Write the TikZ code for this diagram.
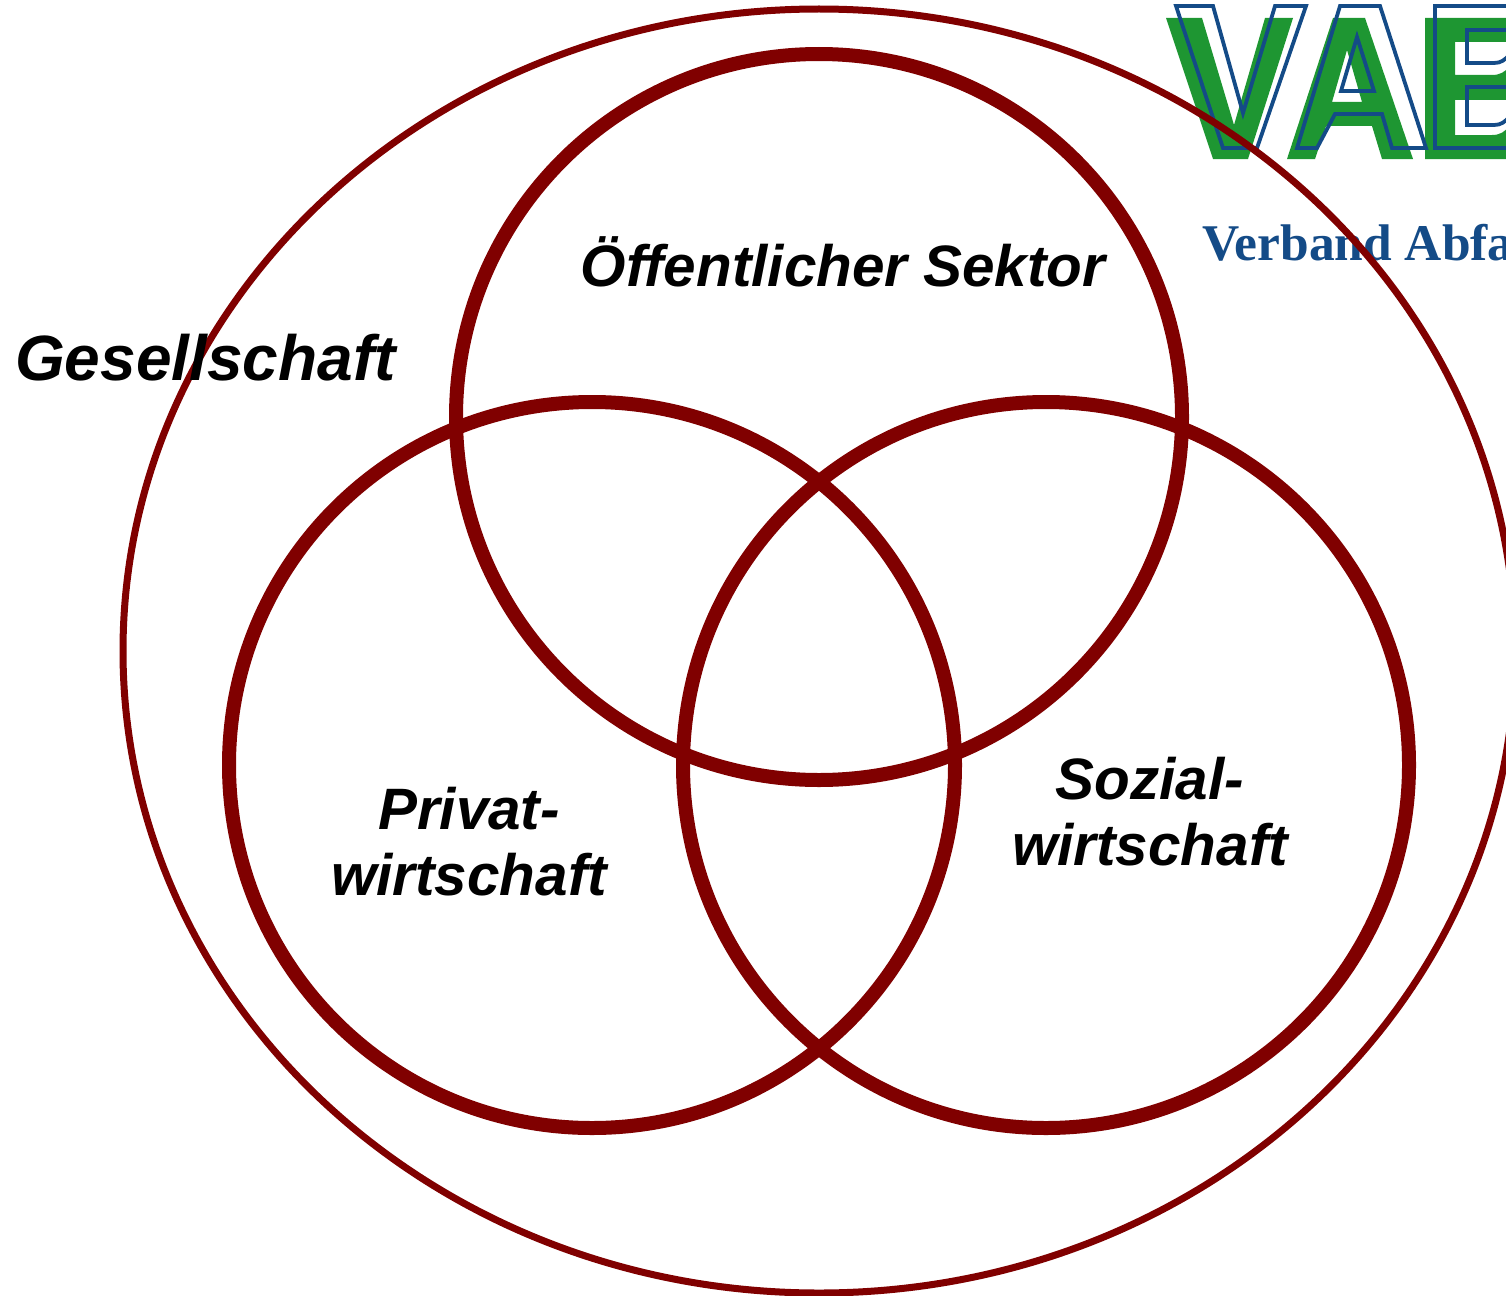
\documentclass[tikz,border=0pt]{standalone}
\usepackage{fontspec}
\setmainfont{Liberation Sans}
\newfontfamily\logoserif{Liberation Serif}
\definecolor{ringred}{RGB}{128,0,0}
\definecolor{logogreen}{RGB}{30,150,50}
\definecolor{logoblue}{RGB}{20,75,135}
\tikzset{
  ring/.style={draw=ringred,line width=14pt,fill=none},
  outerring/.style={draw=ringred,line width=7pt,fill=none},
  lab/.style={font=\fontsize{58.4}{66}\selectfont\bfseries\itshape,text=black,align=center,inner sep=0pt},
  logoline/.style={draw=logoblue,line width=3.8pt,line join=miter},
  logofill/.style={fill=logogreen,even odd rule}
}
\begin{document}
\begin{tikzpicture}[x=1pt,y=-1pt]
\useasboundingbox (0,0) rectangle (1506,1295);
\clip (0,0) rectangle (1506,1295);
% logo: green letters
\fill[logofill] (1166,18)--(1202,18)--(1234,125)--(1265,18)--(1293,18)--(1248,159)--(1213,159)--cycle;
\fill[logofill] (1287,159)--(1333,18)--(1365,18)--(1413,159)--(1382,159)--(1372,126)--(1326,126)--(1315,159)--cycle
 (1347,50)--(1332,102)--(1362,102)--cycle;
\fill[logofill] (1425,18)--(1510,18)--(1510,159)--(1425,159)--cycle
 (1455,42)--(1510,42)--(1510,66) .. controls (1505,72) and (1500,75) .. (1492,75)--(1455,75)--cycle
 (1455,100)--(1510,100)--(1510,125) .. controls (1505,132) and (1500,135) .. (1492,135)--(1455,135)--cycle;
% logo: blue outlines
\draw[logoline] (1176,6)--(1213,6)--(1243,113)--(1275,6)--(1306,6)--(1257,148)--(1223,148)--cycle;
\draw[logoline] (1297,148)--(1340,6)--(1380,6)--(1426,148)--(1392,148)--(1382,114)--(1335,114)--(1317,148)--cycle;
\draw[logoline] (1357,37)--(1341,91)--(1374,91)--cycle;
\draw[logoline] (1510,6)--(1435,6)--(1435,148)--(1510,148);
\draw[logoline] (1510,30)--(1467,30)--(1467,63)--(1494,63) .. controls (1501,63) and (1505,60) .. (1510,54);
\draw[logoline] (1510,87)--(1467,87)--(1467,125)--(1494,125) .. controls (1501,125) and (1505,122) .. (1510,116);
\node[anchor=base west,inner sep=0pt,text=logoblue,font=\logoserif\fontsize{51.5}{56}\selectfont\bfseries] (verband) at (1202,260) {Verband Abfa};
% rings
\draw[outerring] (819,651) ellipse [x radius=696,y radius=642];
\draw[ring] (819,417) circle [radius=363];
\draw[ring] (592,765) circle [radius=363];
\draw[ring] (1046,765) circle [radius=363];
% labels
\node[lab,anchor=base] (oeff) at (843,286) {Öffentlicher Sektor};
\node[lab,anchor=base west,font=\fontsize{64}{70}\selectfont\bfseries\itshape] (ges) at (15,380) {Gesellschaft};
\node[lab,anchor=center] (priv) at (469,842) {Privat-\\wirtschaft};
\node[lab,anchor=center] (soz) at (1150,812) {Sozial-\\wirtschaft};
\end{tikzpicture}
\end{document}
